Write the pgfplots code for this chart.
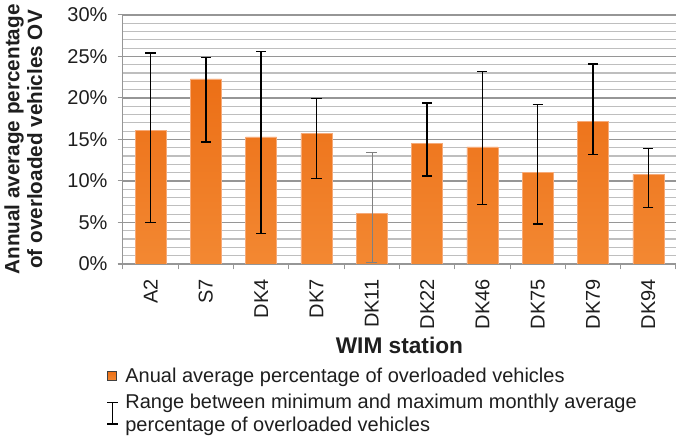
\documentclass[border=0pt]{standalone}
\usepackage{pgfplots}
\pgfplotsset{compat=1.18}
\usepackage{fontspec}
\setmainfont{Liberation Sans}
\definecolor{barA}{RGB}{236,111,22}
\definecolor{barB}{RGB}{243,136,50}
\definecolor{barEdge}{RGB}{246,170,120}
\definecolor{gridMaj}{RGB}{150,150,150}
\definecolor{gridMin}{RGB}{190,190,190}
\definecolor{txt}{RGB}{30,30,30}
\begin{document}
\begin{tikzpicture}[trim axis right]
\begin{axis}[
  scale only axis,
  width=414.75pt, height=186.75pt,
  xmin=-0.5, xmax=9.5, ymin=0, ymax=30,
  axis x line*=bottom, axis y line*=left,
  axis line style={-, gridMaj, line width=0.8pt},
  every outer x axis line/.append style={-},
  every outer y axis line/.append style={-},
  xtick={0,...,9},
  xticklabels={A2,S7,DK4,DK7,DK11,DK22,DK46,DK75,DK79,DK94},
  major x tick style={draw=none},
  minor xtick={-0.5,0.5,...,9.5},
  minor x tick style={gridMaj, line width=0.8pt},
  ytick={0,5,...,30},
  yticklabels={0\%,5\%,10\%,15\%,20\%,25\%,30\%},
  minor ytick={1,2,3,4,6,7,8,9,11,12,13,14,16,17,18,19,21,22,23,24,26,27,28,29},
  minor y tick style={draw=none},
  major y tick style={gridMaj, line width=0.8pt},
  tick align=outside,
  major tick length=4pt, minor tick length=4pt,
  ymajorgrids, yminorgrids,
  major grid style={gridMaj, line width=0.9pt},
  minor grid style={gridMin, line width=0.9pt},
  tick label style={font=\fontsize{15}{18}\selectfont, text=txt},
  xticklabel style={rotate=90, anchor=east, xshift=-4pt},
  yticklabel style={xshift=-4pt},
  xlabel={WIM station},
  ylabel={Annual average percentage\\of overloaded vehicles OV},
  label style={font=\bfseries\fontsize{15.5}{17}\selectfont, text=txt},
  xlabel style={font=\bfseries\fontsize{17}{18}\selectfont, yshift=1pt},
  ylabel style={align=center, yshift=12pt},
  legend style={at={(-0.03,-0.405)}, anchor=north west, draw=none,
    inner xsep=0pt, inner ysep=0pt,
    font=\fontsize{15}{17.25}\selectfont, text=txt, cells={anchor=west, align=left},
    row sep=3pt},
  legend cell align=left,
]
\addplot[ybar, bar width=0.56, bar shift=0pt, top color=barA, bottom color=barB, draw=barEdge, line width=0.4pt,
  legend image code/.code={
    \draw[fill=barA, draw=black!75, line width=0.6pt] (0pt,-3.3pt) rectangle (6.8pt,3.5pt);
    \path (11.5pt,0pt);}]
  table[x=x, y=y] {
x y
0 16.1
1 22.3
2 15.3
3 15.7
4 6.1
5 14.5
6 14.1
7 11.0
8 17.2
9 10.8
};
\addlegendentry{Anual average percentage of overloaded vehicles}
\addlegendimage{legend image code/.code={
  \draw[black, line width=0.8pt] (4.2pt,-8pt) -- (4.2pt,8pt);
  \draw[black, line width=0.8pt] (0pt,-8pt) -- (8.4pt,-8pt);
  \draw[black, line width=0.8pt] (0pt,8pt) -- (8.4pt,8pt);
  \path (11.5pt,0pt);}}
\addlegendentry{Range between minimum and maximum monthly average\\percentage of overloaded vehicles}
\addplot[forget plot, draw=none,
  error bars/.cd, y dir=both, y explicit, error mark=|,
  error bar style={draw=black, line width=1pt},
  error mark options={draw=black, line width=1pt, mark size=3.8pt}]
  table[x=x, y=y, y error plus expr=\thisrow{hi}-\thisrow{y}, y error minus expr=\thisrow{y}-\thisrow{lo}] {
x y lo hi
0 16.1 5.0 25.4
1 22.3 14.7 24.9
2 15.3 3.7 25.6
3 15.7 10.3 19.9
5 14.5 10.6 19.4
6 14.1 7.2 23.2
7 11.0 4.8 19.2
8 17.2 13.2 24.1
9 10.8 6.8 13.9
};
\addplot[forget plot, draw=none,
  error bars/.cd, y dir=both, y explicit, error mark=|,
  error bar style={draw=gray, line width=0.4pt},
  error mark options={draw=gray, line width=0.4pt, mark size=4.2pt}]
  table[x=x, y=y, y error plus expr=\thisrow{hi}-\thisrow{y}, y error minus expr=\thisrow{y}-\thisrow{lo}] {
x y lo hi
4 6.1 0.2 13.4
};
\end{axis}
\end{tikzpicture}
\end{document}
